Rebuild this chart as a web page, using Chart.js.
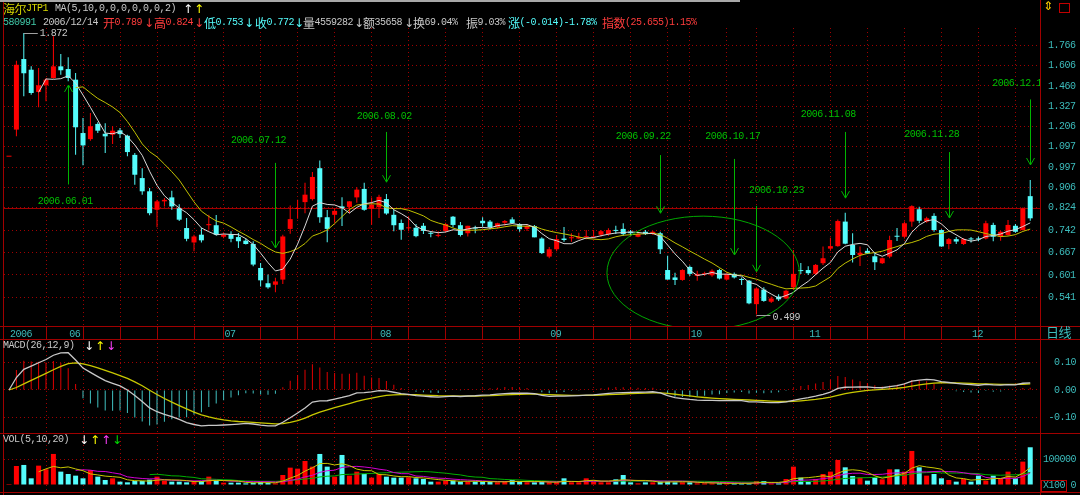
<!DOCTYPE html>
<html>
<head>
<meta charset="utf-8">
<title>海尔JTP1 日线</title>
<script src="https://cdn.jsdelivr.net/npm/chart.js@4.4.1/dist/chart.umd.min.js"></script>
<style>
  html, body { margin: 0; padding: 0; background: #000; }
  #wrap { position: relative; width: 1080px; height: 495px; overflow: hidden; background: #000; }
  canvas { position: absolute; left: 0; }
  .t { position: absolute; white-space: nowrap; line-height: 12px; height: 12px;
       font: 10px 'Liberation Mono', 'DejaVu Sans Mono', monospace; letter-spacing: -0.5px; }
  .t .c, .t .a { display: inline-block; height: 12px; line-height: 12px; vertical-align: top; }
  .t .c { font-family: 'Noto Sans CJK SC', sans-serif; font-size: 12px; letter-spacing: -0.5px; }
  .t .a { font-family: 'DejaVu Sans', sans-serif; font-size: 12px; letter-spacing: 0; }
  .ln { position: absolute; background: #a00000; }
</style>
</head>
<body>
<div id="wrap">
  <canvas id="kline" width="1080" height="339" style="top:0"></canvas>
  <canvas id="macd" width="1080" height="94" style="top:339px"></canvas>
  <canvas id="vol" width="1080" height="62" style="top:433px"></canvas>
</div>
<script>
// 580991 海尔JTP1, daily bars 2006-05-22 .. 2006-12-13
const open = [
  1.047,1.189,1.656,1.575,1.419,1.464,1.515,1.600,1.580,1.503,
  1.170,1.137,1.221,1.166,1.161,1.185,1.155,1.056,0.947,0.890,
  0.816,0.849,0.865,0.822,0.749,0.700,0.726,0.759,0.759,0.719,
  0.728,0.718,0.706,0.695,0.621,0.578,0.574,0.588,0.746,0.819,
  0.846,0.858,0.992,0.788,0.797,0.829,0.827,0.865,0.900,0.820,
  0.826,0.858,0.797,0.767,0.748,0.750,0.757,0.730,0.722,0.739,
  0.790,0.759,0.731,0.749,0.775,0.772,0.752,0.768,0.780,0.763,
  0.746,0.756,0.713,0.655,0.678,0.713,0.714,0.713,0.717,0.717,
  0.726,0.728,0.740,0.746,0.736,0.719,0.736,0.728,0.731,0.615,
  0.594,0.587,0.624,0.598,0.603,0.600,0.615,0.588,0.604,0.588,
  0.585,0.524,0.561,0.530,0.543,0.538,0.567,0.613,0.615,0.604,
  0.635,0.680,0.688,0.772,0.692,0.660,0.673,0.656,0.635,0.655,
  0.722,0.719,0.772,0.818,0.772,0.793,0.742,0.695,0.711,0.695,
  0.712,0.712,0.713,0.760,0.719,0.725,0.757,0.742,0.870];
const high = [
  1.047,1.642,1.872,1.600,1.588,1.515,1.842,1.696,1.669,1.551,
  1.255,1.285,1.231,1.225,1.208,1.198,1.161,1.065,0.992,0.904,
  0.855,0.862,0.892,0.838,0.785,0.726,0.749,0.797,0.796,0.731,
  0.738,0.732,0.713,0.704,0.636,0.602,0.593,0.726,0.833,0.855,
  0.926,0.974,1.028,0.815,0.822,0.865,0.849,0.907,0.926,0.864,
  0.876,0.879,0.816,0.780,0.791,0.763,0.767,0.738,0.738,0.768,
  0.793,0.771,0.757,0.757,0.788,0.778,0.768,0.778,0.788,0.766,
  0.763,0.760,0.717,0.685,0.725,0.753,0.731,0.733,0.742,0.742,
  0.742,0.748,0.757,0.766,0.742,0.733,0.742,0.739,0.736,0.658,
  0.607,0.617,0.628,0.613,0.610,0.617,0.619,0.606,0.608,0.594,
  0.587,0.567,0.567,0.543,0.549,0.560,0.676,0.636,0.626,0.633,
  0.687,0.716,0.780,0.805,0.731,0.687,0.681,0.667,0.652,0.722,
  0.749,0.772,0.834,0.828,0.790,0.803,0.745,0.715,0.718,0.715,
  0.718,0.720,0.775,0.768,0.739,0.778,0.763,0.825,0.938];
const low = [
  1.047,1.152,1.390,1.401,1.321,1.358,1.510,1.539,1.492,1.056,
  1.006,1.128,1.170,1.065,1.111,1.143,1.049,0.918,0.876,0.795,
  0.752,0.829,0.816,0.774,0.704,0.672,0.700,0.743,0.722,0.714,
  0.701,0.682,0.693,0.626,0.569,0.563,0.554,0.576,0.729,0.782,
  0.803,0.852,0.768,0.701,0.768,0.756,0.803,0.843,0.812,0.761,
  0.785,0.797,0.738,0.709,0.738,0.717,0.728,0.717,0.717,0.734,
  0.752,0.720,0.720,0.731,0.754,0.745,0.747,0.757,0.763,0.736,
  0.739,0.717,0.663,0.650,0.672,0.702,0.702,0.711,0.711,0.713,
  0.719,0.722,0.728,0.722,0.722,0.717,0.725,0.725,0.663,0.588,
  0.573,0.585,0.598,0.585,0.598,0.596,0.588,0.587,0.591,0.573,
  0.524,0.499,0.530,0.527,0.532,0.536,0.560,0.604,0.601,0.601,
  0.630,0.673,0.686,0.694,0.637,0.627,0.663,0.615,0.633,0.650,
  0.705,0.713,0.754,0.766,0.768,0.736,0.686,0.678,0.695,0.692,
  0.700,0.704,0.710,0.704,0.706,0.722,0.733,0.740,0.775];
const close = [
  1.047,1.612,1.549,1.412,1.464,1.503,1.600,1.571,1.515,1.202,
  1.104,1.208,1.183,1.152,1.183,1.164,1.070,0.962,0.890,0.803,
  0.849,0.855,0.829,0.779,0.712,0.720,0.707,0.763,0.726,0.726,
  0.712,0.704,0.695,0.631,0.586,0.567,0.583,0.720,0.781,0.822,
  0.876,0.952,0.788,0.746,0.812,0.822,0.849,0.897,0.816,0.836,
  0.867,0.802,0.759,0.743,0.751,0.721,0.739,0.729,0.724,0.763,
  0.760,0.725,0.757,0.747,0.766,0.752,0.766,0.774,0.766,0.745,
  0.756,0.717,0.666,0.678,0.711,0.708,0.716,0.718,0.721,0.719,
  0.738,0.742,0.739,0.728,0.731,0.728,0.728,0.736,0.678,0.588,
  0.587,0.615,0.604,0.604,0.604,0.613,0.591,0.604,0.594,0.587,
  0.526,0.564,0.532,0.538,0.536,0.558,0.604,0.612,0.606,0.630,
  0.650,0.688,0.774,0.696,0.660,0.667,0.665,0.638,0.650,0.708,
  0.719,0.766,0.830,0.775,0.784,0.742,0.687,0.711,0.703,0.711,
  0.710,0.710,0.766,0.719,0.736,0.760,0.736,0.821,0.784];
// volume in lots of 100
const vol = [
  3900,74000,78000,26000,75300,61000,120800,52000,42900,36400,
  26000,58400,32500,19500,26000,13000,10400,15600,15600,20800,
  32500,16900,13000,13000,10400,13000,15600,32500,16900,9100,
  9100,9100,6500,9100,11700,9100,6500,39000,67500,63600,
  93500,71400,120800,71400,32500,116900,36400,52000,42900,28600,
  42900,32500,28600,28600,29900,26000,23400,13000,13000,16900,
  16900,13000,13000,13000,13000,13000,10400,13000,19500,13000,
  10400,10400,13000,10400,10400,26000,10400,10400,26000,19500,
  10400,10400,22100,39000,10400,6500,10400,10400,15600,15600,
  10400,10400,10400,6500,6500,6500,6500,6500,6500,6500,
  6500,15600,15600,6500,6500,23400,71400,28600,13000,23400,
  42900,52000,97400,68800,35100,28600,16900,29900,22100,61000,
  61000,52000,132500,68800,36400,42900,26000,19500,13000,23400,
  13000,36400,16900,36400,23400,52000,26000,90900,146800];

// axis labels
const priceTicks = [0.541,0.601,0.667,0.742,0.824,0.906,0.997,1.097,1.206,1.327,1.460,1.606,1.766];
const monthAt = [0, 8, 29, 50, 73, 92, 108, 130];
const monthText = ['2006','06','07','08','09','10','11','12'];
const weekAt = [5,10,15,20,25,29,34,39,44,49,54,59,64,69,74,79,84,89,92,97,101,106,111,116,121,126,131,136];
const macdTicks = [-0.1, 0, 0.1];
const volTicks = [0, 100000];
const refPrice = 0.824;

// hand-drawn notes on the chart: text, arrow bar, arrow from, arrow to, text bar, text price
const notes = [
  ['2006.06.01',   8, 0.919, 1.466,   7.6, 0.850],
  ['2006.07.12',  36, 1.017, 0.682,  33.7, 1.128],
  ['2006.08.02',  51, 1.176, 0.929,  50.7, 1.264],
  ['2006.09.22',  88, 1.055, 0.803,  85.7, 1.153],
  ['2006.10.17',  98, 1.036, 0.660,  97.8, 1.153],
  ['2006.10.23', 101, 0.831, 0.610, 103.7, 0.892],
  ['2006.11.08', 113, 1.176, 0.862, 110.7, 1.275],
  ['2006.11.28', 127, 1.070, 0.785, 124.7, 1.161],
  ['2006.12.13', 138, 1.370, 1.007, 136.6, 1.479]
];
const ring = { bar: 93.8, half: 13, mid: 0.607, top: 0.792 };

const RED = '#ff0000', CYAN = '#54fcfc', TEAL = '#3cbcbc', GRID = '#a00000', GREEN = '#00b400';
const MONO = "'Liberation Mono','DejaVu Sans Mono',monospace";

// indicators, same as the terminal computes them
function sma(src, n) {
  return src.map((_, i) => i < n - 1 ? null : src.slice(i - n + 1, i + 1).reduce((a, b) => a + b, 0) / n);
}
function ema(src, n) {
  const k = 2 / (n + 1);
  let e = src[0];
  return src.map((v, i) => i === 0 ? e : (e = k * v + (1 - k) * e));
}
const up = close.map((c, i) => c >= open[i]);
const ma5 = sma(close, 5), ma10 = sma(close, 10);
const e12 = ema(close, 12), e26 = ema(close, 26);
const dif = e12.map((v, i) => v - e26[i]);
const dea = ema(dif, 9);
const bar = dif.map((v, i) => 2 * (v - dea[i]));
const vma5 = sma(vol, 5), vma10 = sma(vol, 10), vma20 = sma(vol, 20);
const pts = arr => arr.map((v, i) => ({ x: i, y: v }));

// ---- frame, header and panel titles
const wrap = document.getElementById('wrap');
function txt(x, y, s, color) {
  const el = document.createElement('div');
  el.className = 't';
  el.style.left = x + 'px';
  el.style.top = y + 'px';
  el.style.color = color;
  el.innerHTML = s.replace(/([\u4e00-\u9fff]+)/g, '<span class="c">$1</span>')
                  .replace(/([↑↓⇕])/g, '<span class="a">$1</span>');
  wrap.appendChild(el);
  return el;
}
function line(x, y, w, h, c) {
  const el = document.createElement('div');
  el.className = 'ln';
  el.style.cssText = `left:${x}px;top:${y}px;width:${w}px;height:${h}px;` + (c ? `background:${c}` : '');
  wrap.appendChild(el);
}
line(0, 0, 740, 2, '#a8a8a8');
line(3, 2, 1, 493);
line(1040, 0, 1, 495);
line(0, 326, 1080, 1);
line(0, 339, 1080, 1);
line(0, 433, 1080, 1);
line(0, 492, 1080, 1);

const GRAY = '#c8c8c8';
[[3, '海尔JTP1', '#d8d800'], [55, 'MA(5,10,0,0,0,0,0,0,2)', GRAY], [183, '↑', '#ffffff'], [194, '↑', '#ffff00']]
  .forEach(h => txt(h[0], 3, h[1], h[2]));
[[3, '580991', '#40c8a8'], [43, '2006/12/14', GRAY], [103, '开0.789', '#ff3c3c'], [144, '↓', '#ff3c3c'],
 [154, '高0.824', '#ff3c3c'], [194, '↓', '#ff3c3c'], [204, '低0.753', CYAN], [244, '↓', CYAN],
 [255, '收0.772', CYAN], [294, '↓', CYAN], [303, '量4559282', GRAY], [354, '↓', GRAY],
 [363, '额35658', GRAY], [404, '↓', GRAY], [413, '换69.04%', GRAY], [466, '振9.03%', GRAY],
 [508, '涨(-0.014)-1.78%', CYAN], [602, '指数(25.655)1.15%', '#ff3c3c']]
  .forEach(h => txt(h[0], 17, h[1], h[2]));
[[3, 'MACD(26,12,9)', GRAY], [84, '↓', '#ffffff'], [95, '↑', '#ffff00'], [106, '↓', '#ff40ff']]
  .forEach(h => txt(h[0], 340, h[1], h[2]));
[[3, 'VOL(5,10,20)', GRAY], [79, '↓', '#ffffff'], [90, '↑', '#ffff00'], [101, '↑', '#ff40ff'], [112, '↓', '#00e000']]
  .forEach(h => txt(h[0], 434, h[1], h[2]));
txt(1046, 326, '日线', TEAL).querySelector('.c').style.fontSize = '13px';
const x100 = txt(1041, 480, 'X100', TEAL);
x100.style.cssText += 'border:1px solid #c00000;padding:0 1px;height:10px;line-height:10px;';
txt(1043, 0, '⇕', '#ffd000');
const box = txt(1059, 3, '', GRAY);
box.style.cssText += 'width:9px;height:8px;border:1px solid #c00000;';

// ---- Chart.js setup
Chart.defaults.font.family = MONO;
Chart.defaults.font.size = 10;
Chart.defaults.animation = false;
Chart.defaults.events = [];
Chart.defaults.plugins.legend.display = false;
Chart.defaults.plugins.tooltip.enabled = false;

const xMin = -0.676, xMax = 139.32;
const tight = {
  id: 'tight',
  beforeUpdate(c) { c.ctx.letterSpacing = '-0.5px'; },
  beforeDraw(c) { c.ctx.letterSpacing = '-0.5px'; }
};
function weekAxis(withTicks) {
  return {
    type: 'linear', position: 'bottom', weight: 0, min: xMin, max: xMax, offset: false,
    afterBuildTicks: s => { s.ticks = weekAt.map(v => ({ value: v })); },
    afterFit: s => { s.height = 0; s.paddingLeft = 0; s.paddingRight = 0; },
    ticks: { display: false },
    grid: { offset: false, color: GRID, drawTicks: withTicks, tickLength: 13, tickColor: GRID },
    border: { display: false, dash: [1, 3] }
  };
}
// right-hand value axis: 36px wide, ending 4px before the canvas edge
function valueAxis(type, min, max, ticks, fmt, align, pad, gridColor) {
  return {
    type, position: 'right', min, max,
    afterBuildTicks: s => { s.ticks = ticks.map(v => ({ value: v })); },
    afterFit: s => { s.width = 36; s.paddingTop = 0; s.paddingBottom = 0; },
    ticks: { callback: fmt, color: TEAL, padding: pad, crossAlign: align, autoSkip: false },
    grid: { color: gridColor || GRID, drawTicks: false },
    border: { display: false, dash: [1, 3] }
  };
}

const notesPlugin = {
  id: 'notes',
  beforeDatasetsDraw(chart) {
    const { ctx, chartArea: a, scales: { y } } = chart;
    const yr = Math.round(y.getPixelForValue(refPrice)) + 0.5;
    ctx.save();
    ctx.strokeStyle = GRID;
    ctx.lineWidth = 1;
    ctx.beginPath(); ctx.moveTo(a.left, yr); ctx.lineTo(a.right, yr); ctx.stroke();
    ctx.restore();
  },
  afterDatasetsDraw(chart) {
    const { ctx, chartArea: a, scales: { x, y } } = chart;
    ctx.save();
    ctx.beginPath(); ctx.rect(a.left, a.top, a.right - a.left, a.bottom - a.top); ctx.clip();
    ctx.lineWidth = 1;
    ctx.font = '10px ' + MONO;
    ctx.textAlign = 'center';
    ctx.textBaseline = 'middle';
    notes.forEach(([label, b, from, to, tb, tp]) => {
      const px = Math.round(x.getPixelForValue(b)) + 0.5;
      const y1 = y.getPixelForValue(from), y2 = y.getPixelForValue(to);
      const d = y2 > y1 ? -7 : 7;
      ctx.strokeStyle = GREEN;
      ctx.beginPath();
      ctx.moveTo(px, y1); ctx.lineTo(px, y2);
      ctx.moveTo(px - 4, y2 + d); ctx.lineTo(px, y2); ctx.lineTo(px + 4, y2 + d);
      ctx.stroke();
      ctx.fillStyle = '#00c000';
      ctx.fillText(label, x.getPixelForValue(tb), y.getPixelForValue(tp));
    });
    // circle round the October low
    const cx = x.getPixelForValue(ring.bar), cy = y.getPixelForValue(ring.mid);
    const rx = x.getPixelForValue(ring.bar + ring.half) - cx, ry = cy - y.getPixelForValue(ring.top);
    ctx.strokeStyle = '#00a800';
    ctx.beginPath(); ctx.ellipse(cx, cy, rx, ry, 0, 0, Math.PI * 2); ctx.stroke();
    // highest and lowest price marks
    const hi = Math.max(...high), lo = Math.min(...low);
    [[high.indexOf(hi), hi, 0], [low.indexOf(lo), lo, 2]].forEach(([i, v, dy]) => {
      const px = x.getPixelForValue(i), py = Math.round(y.getPixelForValue(v)) + 0.5;
      ctx.strokeStyle = '#a0a0a0';
      ctx.beginPath(); ctx.moveTo(px, py); ctx.lineTo(px + 14, py); ctx.stroke();
      ctx.fillStyle = GRAY;
      ctx.textAlign = 'left';
      ctx.fillText(v.toFixed(3), px + 16, py + dy);
    });
    ctx.restore();
  }
};

new Chart(document.getElementById('kline'), {
  type: 'bar',
  data: {
    datasets: [
      { type: 'line', data: pts(ma5), borderColor: '#d8d8d8', borderWidth: 1, pointRadius: 0, xAxisID: 'x', yAxisID: 'y', order: 0 },
      { type: 'line', data: pts(ma10), borderColor: '#c0c000', borderWidth: 1, pointRadius: 0, xAxisID: 'x', yAxisID: 'y', order: 1 },
      { data: open.map((o, i) => ({ x: i, y: [o, close[i]] })), backgroundColor: up.map(u => u ? RED : CYAN),
        barThickness: 5, minBarLength: 1, grouped: false, inflateAmount: 0, xAxisID: 'x', yAxisID: 'y', order: 2 },
      { data: low.map((l, i) => ({ x: i, y: [l, high[i]] })), backgroundColor: up.map(u => u ? RED : CYAN),
        barThickness: 1, grouped: false, inflateAmount: 0, xAxisID: 'x', yAxisID: 'y', order: 3 }
    ]
  },
  options: {
    responsive: false,
    layout: { padding: { left: 4, top: 28, right: 4, bottom: 0 }, autoPadding: false },
    scales: {
      x: weekAxis(true),
      xm: {
        type: 'linear', position: 'bottom', weight: 1, min: xMin, max: xMax, offset: false,
        afterBuildTicks: s => { s.ticks = monthAt.map(v => ({ value: v })); },
        afterFit: s => { s.height = 13; s.paddingLeft = 0; s.paddingRight = 0; },
        ticks: { callback: (v, i) => monthText[i], color: TEAL, align: 'start', labelOffset: 1,
                 padding: 2, autoSkip: false, maxRotation: 0, minRotation: 0 },
        grid: { display: false, drawTicks: false },
        border: { display: false }
      },
      y: valueAxis('logarithmic', 0.4729, 1.9157, priceTicks, v => Number(v).toFixed(3), 'near', 8)
    }
  },
  plugins: [tight, notesPlugin]
});

new Chart(document.getElementById('macd'), {
  type: 'bar',
  data: {
    datasets: [
      { type: 'line', data: pts(dif), borderColor: '#c8c8c8', borderWidth: 1.3, pointRadius: 0, xAxisID: 'x', order: 0 },
      { type: 'line', data: pts(dea), borderColor: '#c8c800', borderWidth: 1.3, pointRadius: 0, xAxisID: 'x', order: 1 },
      { data: pts(bar), backgroundColor: bar.map(v => v >= 0 ? '#e00000' : '#40c0c0'),
        barThickness: 1, grouped: false, inflateAmount: 0, xAxisID: 'x', order: 2 }
    ]
  },
  options: {
    responsive: false,
    layout: { padding: { left: 4, top: 0, right: 4, bottom: 0 }, autoPadding: false },
    scales: {
      x: weekAxis(false),
      y: valueAxis('linear', -0.1555, 0.1844, macdTicks, v => Number(v).toFixed(2), 'far', 2)
    }
  },
  plugins: [tight]
});

new Chart(document.getElementById('vol'), {
  type: 'bar',
  data: {
    datasets: [
      { type: 'line', data: pts(vma5), borderColor: '#c8c800', borderWidth: 1, pointRadius: 0, xAxisID: 'x', order: 0 },
      { type: 'line', data: pts(vma10), borderColor: '#d000d0', borderWidth: 1, pointRadius: 0, xAxisID: 'x', order: 1 },
      { type: 'line', data: pts(vma20), borderColor: '#00b000', borderWidth: 1, pointRadius: 0, xAxisID: 'x', order: 2 },
      { data: pts(vol), backgroundColor: up.map(u => u ? RED : CYAN),
        barThickness: 5, grouped: false, inflateAmount: 0, xAxisID: 'x', order: 3 }
    ]
  },
  options: {
    responsive: false,
    layout: { padding: { left: 4, top: 0, right: 4, bottom: 3 }, autoPadding: false },
    scales: {
      x: weekAxis(false),
      y: valueAxis('linear', -27237, 202335, volTicks, v => String(v), 'far', 2,
                   c => (c.tick && c.tick.value === 0) ? 'rgba(0,0,0,0)' : GRID)
    }
  },
  plugins: [tight]
});
</script>
</body>
</html>
